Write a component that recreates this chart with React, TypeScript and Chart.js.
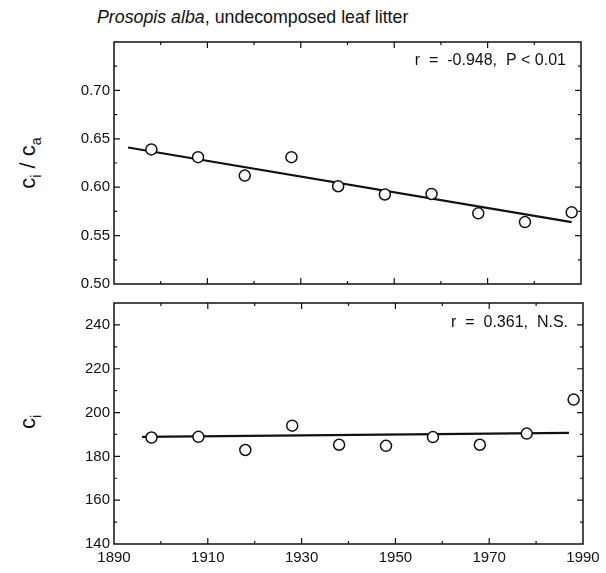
import React, { useEffect, useRef } from "react";
import { Chart, registerables } from "chart.js";
Chart.register(...registerables);

// ---- data ----
const years = [1898, 1908, 1918, 1928, 1938, 1948, 1958, 1968, 1978, 1988];
const ratioValues = [0.639, 0.631, 0.612, 0.631, 0.601, 0.5925, 0.593, 0.573, 0.564, 0.574];
const ciValues = [188.6, 188.9, 182.9, 194.0, 185.3, 184.8, 188.8, 185.3, 190.4, 205.9];
const ratioFitX = [1893, 1988];
const ratioFitY = [0.641, 0.564];
const ciFitX = [1896, 1987];
const ciFitY = [188.9, 190.7];
const xTickLabels = [1890, 1910, 1930, 1950, 1970, 1990];
const ratioTickLabels = [0.5, 0.55, 0.6, 0.65, 0.7];
const ciTickLabels = [140, 160, 180, 200, 220, 240];
const titleItalic = "Prosopis alba";
const titleRest = ", undecomposed leaf litter";
const ratioNote = "r  =  -0.948,  P < 0.01";
const ciNote = "r  =  0.361,  N.S.";

const FONT = "'Liberation Sans', Arial, Helvetica, sans-serif";

function isIn(list: number[], v: number) {
  return list.some((l) => Math.abs(l - v) < 1e-6);
}

function makePlugin(xMajor: number[], yMajor: number[], note: string, noteY: number) {
  return {
    id: "frameTicks",
    afterDraw(chart: any) {
      const ctx = chart.ctx;
      const a = chart.chartArea;
      const xs = chart.scales.x;
      const ys = chart.scales.y;
      ctx.save();
      ctx.strokeStyle = "#111";
      ctx.lineWidth = 1.5;
      ctx.strokeRect(a.left, a.top, a.right - a.left, a.bottom - a.top);
      ctx.lineWidth = 1.2;
      ctx.beginPath();
      xs.ticks.forEach((t: any) => {
        const px = xs.getPixelForValue(t.value);
        if (px <= a.left + 1 || px >= a.right - 1) return;
        const len = isIn(xMajor, t.value) ? 6 : 3;
        ctx.moveTo(px, a.bottom);
        ctx.lineTo(px, a.bottom - len);
        ctx.moveTo(px, a.top);
        ctx.lineTo(px, a.top + len);
      });
      ys.ticks.forEach((t: any) => {
        const py = ys.getPixelForValue(t.value);
        if (py <= a.top + 1 || py >= a.bottom - 1) return;
        const len = isIn(yMajor, t.value) ? 6 : 3;
        ctx.moveTo(a.left, py);
        ctx.lineTo(a.left + len, py);
        ctx.moveTo(a.right, py);
        ctx.lineTo(a.right - len, py);
      });
      ctx.stroke();
      ctx.fillStyle = "#111";
      ctx.font = `16px ${FONT}`;
      ctx.textAlign = "right";
      ctx.textBaseline = "middle";
      ctx.fillText(note, a.right - 15, a.top + noteY);
      ctx.restore();
    },
  };
}

function buildConfig(opts: {
  xs: number[];
  ys: number[];
  fitX: number[];
  fitY: number[];
  yMin: number;
  yMax: number;
  yStep: number;
  yMajor: number[];
  yFmt: (v: number) => string;
  showX: boolean;
  padding: any;
  xHeight: number;
  note: string;
  noteY: number;
}): any {
  return {
    type: "scatter",
    data: {
      datasets: [
        {
          type: "line",
          data: opts.fitX.map((x, i) => ({ x, y: opts.fitY[i] })),
          borderColor: "#111",
          borderWidth: 2.2,
          pointRadius: 0,
          fill: false,
          order: 2,
        },
        {
          data: opts.xs.map((x, i) => ({ x, y: opts.ys[i] })),
          pointRadius: 5.5,
          pointBackgroundColor: "#fff",
          pointBorderColor: "#111",
          pointBorderWidth: 1.5,
          order: 1,
        },
      ],
    },
    options: {
      responsive: false,
      animation: false,
      layout: { padding: opts.padding },
      plugins: { legend: { display: false }, tooltip: { enabled: false } },
      scales: {
        x: {
          type: "linear",
          min: 1890,
          max: 1990,
          grid: { display: false, drawTicks: false },
          border: { display: false },
          afterFit: (s: any) => {
            s.height = opts.xHeight;
          },
          ticks: {
            stepSize: 10,
            autoSkip: false,
            maxRotation: 0,
            display: opts.showX,
            padding: 5,
            color: "#111",
            font: { family: FONT, size: 15 },
            callback: (v: number) => (isIn(xTickLabels, v) ? String(v) : ""),
          },
        },
        y: {
          type: "linear",
          min: opts.yMin,
          max: opts.yMax,
          grid: { display: false, drawTicks: false },
          border: { display: false },
          afterFit: (s: any) => {
            s.width = 50;
          },
          ticks: {
            stepSize: opts.yStep,
            autoSkip: false,
            padding: 4,
            color: "#111",
            font: { family: FONT, size: 15 },
            callback: (v: number) => (isIn(opts.yMajor, v) ? opts.yFmt(v) : ""),
          },
        },
      },
    },
    plugins: [makePlugin(xTickLabels, opts.yMajor, opts.note, opts.noteY)],
  };
}

export default function App() {
  const topRef = useRef<HTMLCanvasElement>(null);
  const botRef = useRef<HTMLCanvasElement>(null);

  useEffect(() => {
    const top = new Chart(
      topRef.current as HTMLCanvasElement,
      buildConfig({
        xs: years,
        ys: ratioValues,
        fitX: ratioFitX,
        fitY: ratioFitY,
        yMin: 0.5,
        yMax: 0.75,
        yStep: 0.025,
        yMajor: ratioTickLabels,
        yFmt: (v) => v.toFixed(2),
        showX: false,
        padding: { left: 64, right: 25, top: 42, bottom: 16 },
        xHeight: 0,
        note: ratioNote,
        noteY: 19,
      })
    );
    const bot = new Chart(
      botRef.current as HTMLCanvasElement,
      buildConfig({
        xs: years,
        ys: ciValues,
        fitX: ciFitX,
        fitY: ciFitY,
        yMin: 140,
        yMax: 250,
        yStep: 10,
        yMajor: ciTickLabels,
        yFmt: (v) => String(v),
        showX: true,
        padding: { left: 64, right: 23, top: 11, bottom: 0 },
        xHeight: 29,
        note: ciNote,
        noteY: 20,
      })
    );
    return () => {
      top.destroy();
      bot.destroy();
    };
  }, []);

  const labelStyle: React.CSSProperties = {
    position: "absolute",
    transform: "translate(-50%, -50%) rotate(-90deg)",
    fontFamily: FONT,
    fontSize: 22,
    color: "#111",
    whiteSpace: "nowrap",
    lineHeight: 1,
  };
  const subStyle: React.CSSProperties = { fontSize: 14, verticalAlign: "-6px" };

  return (
    <div
      style={{
        position: "fixed",
        left: 0,
        top: 0,
        width: 606,
        height: 573,
        background: "#fff",
        overflow: "hidden",
      }}
    >
      <div
        style={{
          position: "absolute",
          left: 97,
          top: 7,
          fontFamily: FONT,
          fontSize: 17.8,
          color: "#111",
          whiteSpace: "nowrap",
        }}
      >
        <i>{titleItalic}</i>
        {titleRest}
      </div>
      <div style={{ ...labelStyle, left: 30, top: 163 }}>
        c<span style={subStyle}>i</span> / c<span style={subStyle}>a</span>
      </div>
      <div style={{ ...labelStyle, left: 30, top: 422 }}>
        c<span style={subStyle}>i</span>
      </div>
      <canvas
        ref={topRef}
        width={606}
        height={300}
        style={{ position: "absolute", left: 0, top: 0 }}
      />
      <canvas
        ref={botRef}
        width={606}
        height={283}
        style={{ position: "absolute", left: 0, top: 290 }}
      />
    </div>
  );
}
